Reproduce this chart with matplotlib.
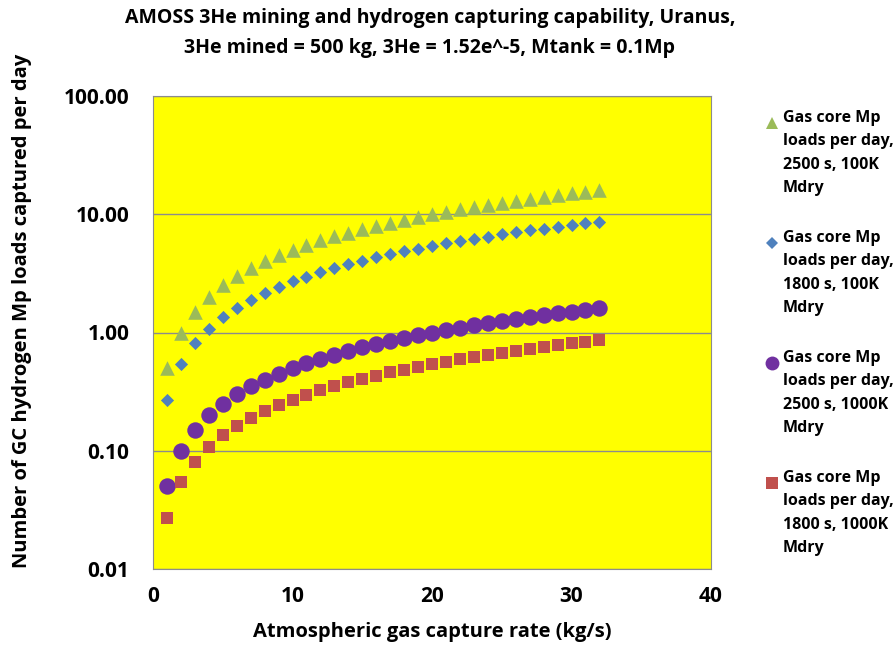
import matplotlib
matplotlib.use("Agg")
import matplotlib.pyplot as plt
from matplotlib.lines import Line2D
from matplotlib.ticker import FixedLocator, FixedFormatter, NullLocator

plt.rcParams['font.family'] = ['Open Sans', 'DejaVu Sans']
plt.rcParams['font.weight'] = 'bold'

x = list(range(1, 33))
green_2500_100K = [0.5, 1.0, 1.5, 2.0, 2.5, 3.0, 3.5, 4.0, 4.5, 5.0, 5.5, 6.0, 6.5, 7.0, 7.5, 8.0,
                   8.5, 9.0, 9.5, 10.0, 10.5, 11.0, 11.5, 12.0, 12.5, 13.0, 13.5, 14.0, 14.5, 15.0, 15.5, 16.0]
blue_1800_100K = [0.27, 0.54, 0.81, 1.08, 1.35, 1.62, 1.89, 2.16, 2.43, 2.70, 2.97, 3.24, 3.51, 3.78, 4.05, 4.32,
                  4.59, 4.86, 5.13, 5.40, 5.67, 5.94, 6.21, 6.48, 6.75, 7.02, 7.29, 7.56, 7.83, 8.10, 8.37, 8.64]
purple_2500_1000K = [0.05, 0.10, 0.15, 0.20, 0.25, 0.30, 0.35, 0.40, 0.45, 0.50, 0.55, 0.60, 0.65, 0.70, 0.75, 0.80,
                     0.85, 0.90, 0.95, 1.00, 1.05, 1.10, 1.15, 1.20, 1.25, 1.30, 1.35, 1.40, 1.45, 1.50, 1.55, 1.60]
red_1800_1000K = [0.027, 0.054, 0.081, 0.108, 0.135, 0.162, 0.189, 0.216, 0.243, 0.270, 0.297, 0.324, 0.351, 0.378, 0.405, 0.432,
                  0.459, 0.486, 0.513, 0.540, 0.567, 0.594, 0.621, 0.648, 0.675, 0.702, 0.729, 0.756, 0.783, 0.810, 0.837, 0.864]

labels = ["Gas core Mp\nloads per day,\n2500 s, 100K\nMdry",
          "Gas core Mp\nloads per day,\n1800 s, 100K\nMdry",
          "Gas core Mp\nloads per day,\n2500 s, 1000K\nMdry",
          "Gas core Mp\nloads per day,\n1800 s, 1000K\nMdry"]
yticks = [0.01, 0.1, 1, 10, 100]
ytick_labels = ["0.01", "0.10", "1.00", "10.00", "100.00"]
xticks = [0, 10, 20, 30, 40]

W, H = 893, 646
fig = plt.figure(figsize=(8.93, 6.46), dpi=100)
ax = fig.add_axes([153 / W, 1 - 569 / H, 558 / W, 473 / H])
ax.set_facecolor('#FFFF00')

series = [
    (green_2500_100K, '^', 110, '#9BBB59'),
    (blue_1800_100K, 'D', 45, '#4F81BD'),
    (purple_2500_1000K, 'o', 140, '#7030A0'),
    (red_1800_1000K, 's', 70, '#C0504D'),
]
for (vals, m, s, c), lab in zip(series, labels):
    ax.scatter(x, vals, marker=m, s=s, color=c, label=lab, zorder=3, linewidths=0)

ax.set_yscale('log')
ax.set_ylim(0.01, 100)
ax.set_xlim(0, 40)
ax.yaxis.set_major_locator(FixedLocator(yticks))
ax.yaxis.set_major_formatter(FixedFormatter(ytick_labels))
ax.yaxis.set_minor_locator(NullLocator())
ax.set_xticks(xticks)
ax.grid(axis='y', color='#8C8C8C', linewidth=1.0, zorder=1)
ax.set_axisbelow(True)
for sp in ax.spines.values():
    sp.set_color('#8C8C8C')
ax.tick_params(axis='y', length=0, labelsize=15, pad=17)
ax.tick_params(axis='x', length=0, labelsize=15, pad=12)

ax.set_xlabel("Atmospheric gas capture rate (kg/s)", fontsize=14.5, fontweight='bold')
ax.set_ylabel("Number of GC hydrogen Mp loads captured per day", fontsize=14.5, fontweight='bold')
ax.xaxis.set_label_coords((432 - 153) / 558, -(632 - 569) / 473)
ax.xaxis.label.set_va('center')
ax.yaxis.set_label_coords(-(153 - 22) / 558, (569 - 311) / 473)
ax.yaxis.label.set_va('center')

fig.text(430 / W, 1 - 33 / H, "AMOSS 3He mining and hydrogen capturing capability, Uranus,\n3He mined = 500 kg, 3He = 1.52e^-5, Mtank = 0.1Mp",
         fontsize=14, fontweight='bold', ha='center', va='center', linespacing=1.6)

# manual legend
leg_tops = [123, 243, 363, 483]
for (vals, m, s, c), lab, yt in zip(series, labels, leg_tops):
    ms = {'^': 9, 'D': 6, 'o': 10, 's': 8}[m]
    fig.add_artist(Line2D([772 / W], [1 - yt / H], marker=m, markersize=ms, color=c,
                          linestyle='none', markeredgewidth=0, transform=fig.transFigure))
    fig.text(783 / W, 1 - (yt - 13) / H, lab, fontsize=11.5, fontweight='bold',
             ha='left', va='top', linespacing=1.62)

fig.savefig("out.png", dpi=100)
